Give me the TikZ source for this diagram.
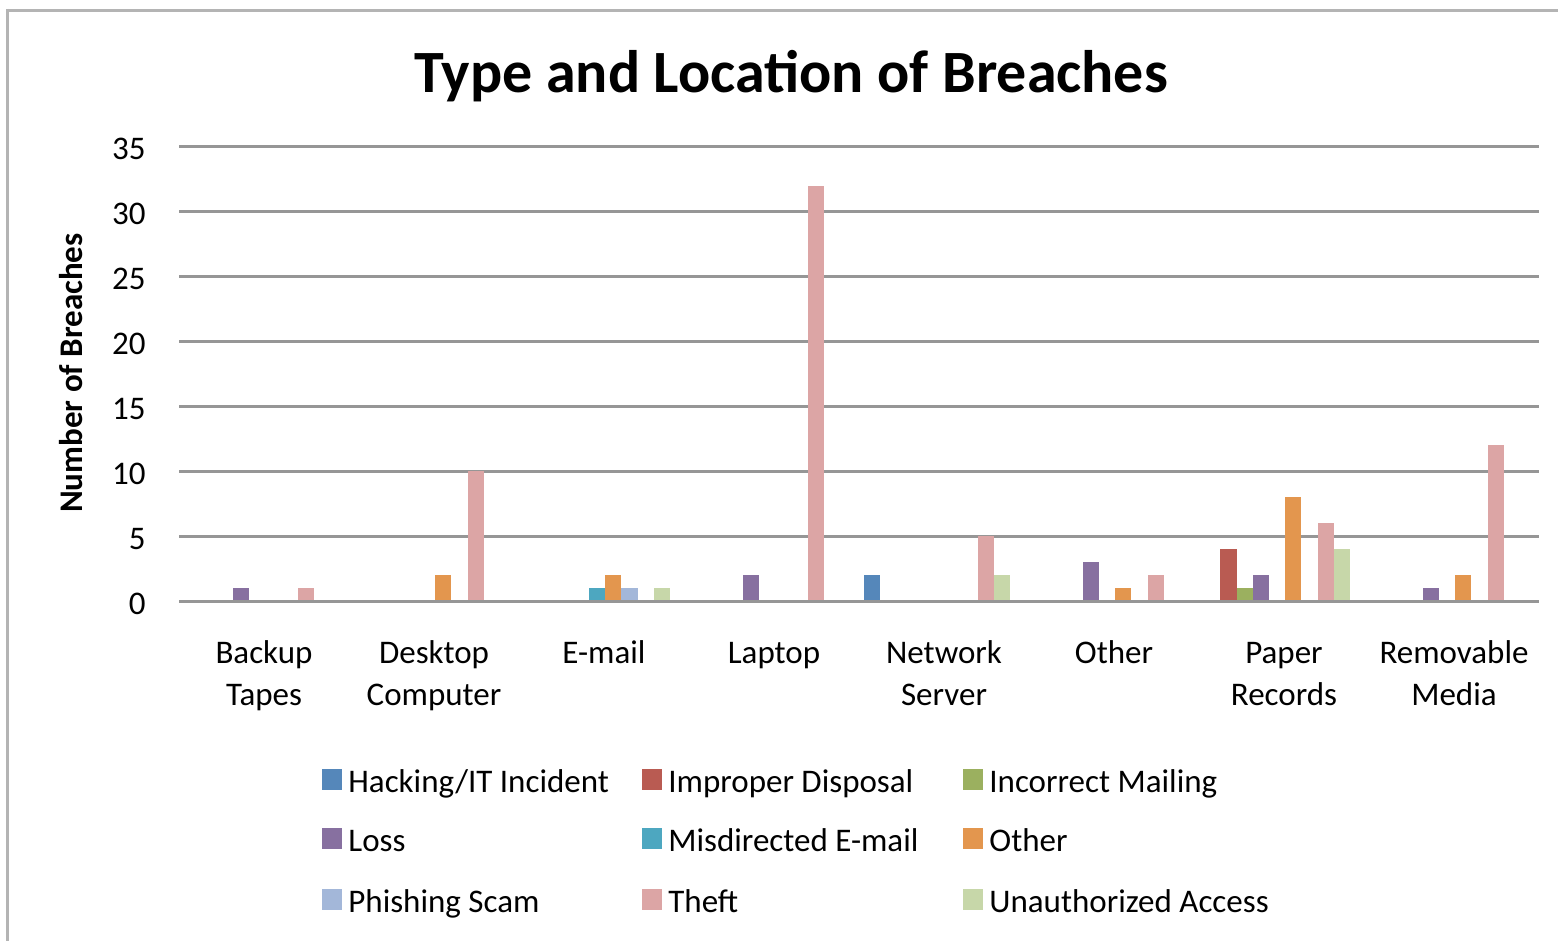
\documentclass[tikz,border=0pt]{standalone}
\usepackage{fontspec}
\setmainfont{Carlito}
\definecolor{frame}{HTML}{B4B4B4}
\definecolor{grid}{HTML}{969696}
\definecolor{s0}{HTML}{5587BA}
\definecolor{s1}{HTML}{B95B52}
\definecolor{s2}{HTML}{9BB05F}
\definecolor{s3}{HTML}{8770A0}
\definecolor{s4}{HTML}{4DA7C0}
\definecolor{s5}{HTML}{E3964E}
\definecolor{s6}{HTML}{A3B7D9}
\definecolor{s7}{HTML}{DCA5A5}
\definecolor{s8}{HTML}{C7D7A9}
\tikzset{
  gridline/.style={draw=grid, line width=1.5pt},
  frameline/.style={draw=frame, line width=1.5pt},
  ticklabel/.style={anchor=base east, inner sep=0pt, font=\fontsize{16.5}{19}\selectfont},
  catlabel/.style={anchor=base, inner sep=0pt, align=center, font=\fontsize{16.5}{21}\selectfont},
  legtext/.style={anchor=base west, inner sep=0pt, font=\fontsize{16.5}{19}\selectfont},
  legkey/.style={draw=none, minimum width=10pt, minimum height=10.5pt, inner sep=0pt, anchor=south west},
}
\begin{document}
\begin{tikzpicture}[x=0.5pt, y=-0.5pt]
\useasboundingbox (0,0) rectangle (1558,941);
\fill[white] (0,0) rectangle (1558,941);
% outer frame (top and left edges)
\draw[frameline] (6,10.5) -- (1558,10.5);
\draw[frameline] (7.5,9) -- (7.5,941);
% title
\node[anchor=base, inner sep=0pt, font=\fontsize{30}{34}\selectfont\bfseries] (title) at (791,93) {Type and Location of Breaches};
% axis title
\node[anchor=base, rotate=90, inner sep=0pt, font=\fontsize{16.5}{19}\selectfont\bfseries] (ytitle) at (82,373) {Number of Breaches};
% horizontal grid lines and value labels
\foreach \v in {5,10,...,35} {
  \draw[gridline] (179,{601-\v*454/35}) -- (1539,{601-\v*454/35});
}
\foreach \v in {0,5,...,35} {
  \node[ticklabel] (tick\v) at (146,{601-\v*454/35+13}) {\v};
}
% bars: category / series / value
\foreach \c/\s/\v in {0/3/1, 0/7/1, 1/5/2, 1/7/10, 2/4/1, 2/5/2, 2/6/1, 2/8/1,
    3/3/2, 3/7/32, 4/0/2, 4/7/5, 4/8/2, 5/3/3, 5/5/1, 5/7/2,
    6/1/4, 6/2/1, 6/3/2, 6/5/8, 6/7/6, 6/8/4, 7/3/1, 7/5/2, 7/7/12} {
  \fill[s\s] ({257+170*\c-72.9+16.2*\s},601) rectangle ({257+170*\c-72.9+16.2*(\s+1)},{601-\v*454/35});
}
% category axis
\draw[gridline] (179,601) -- (1539,601);
% category labels (base anchor sits on the last line)
\node[catlabel] (c0) at (264,705) {Backup\\Tapes};
\node[catlabel] (c1) at (434,705) {Desktop\\Computer};
\node[catlabel] (c2) at (604,663) {E-mail};
\node[catlabel] (c3) at (774,663) {Laptop};
\node[catlabel] (c4) at (944,705) {Network\\Server};
\node[catlabel] (c5) at (1114,663) {Other};
\node[catlabel] (c6) at (1284,705) {Paper\\Records};
\node[catlabel] (c7) at (1454,705) {Removable\\Media};
% legend
\foreach \s/\x/\y/\t in {0/322/792/Hacking\slash IT Incident, 1/642/792/Improper Disposal, 2/963/792/Incorrect Mailing,
    3/322/851/Loss, 4/642/851/Misdirected E-mail, 5/963/851/Other,
    6/322/912/Phishing Scam, 7/642/912/Theft, 8/963/912/Unauthorized Access} {
  \node[legkey, fill=s\s] (key\s) at (\x,{\y-2}) {};
  \node[legtext] (leg\s) at ({\x+26},\y) {\t};
}
\end{tikzpicture}
\end{document}
